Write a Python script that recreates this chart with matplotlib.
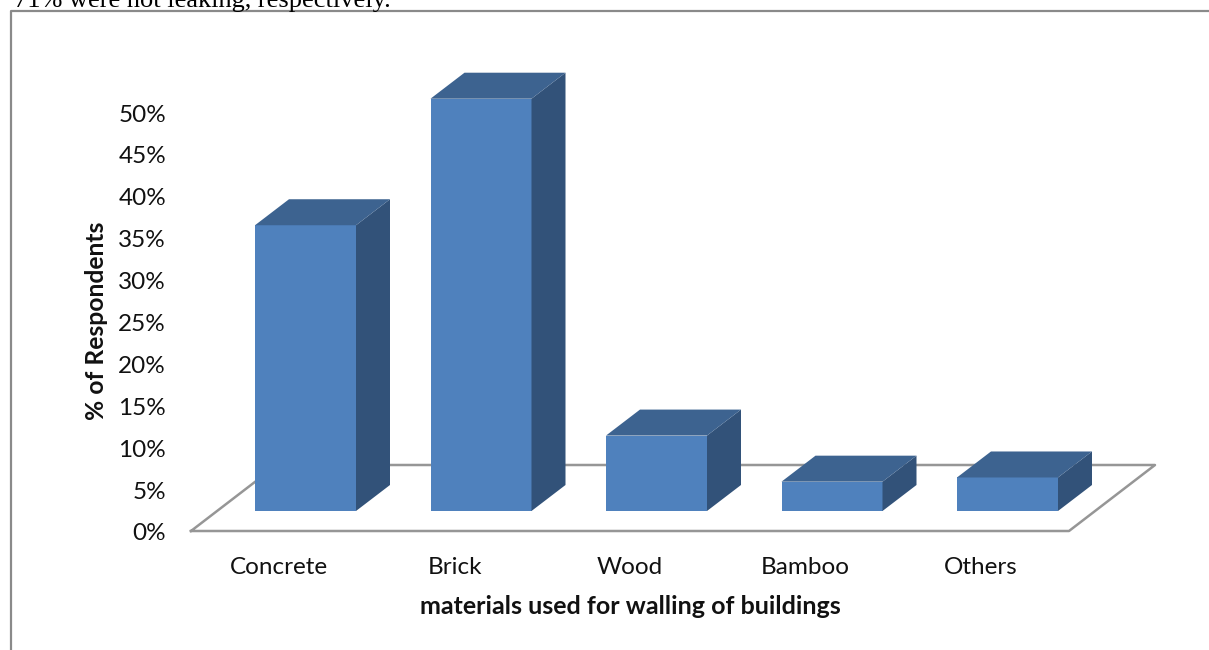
import matplotlib
matplotlib.use("Agg")
import matplotlib.pyplot as plt
from matplotlib.lines import Line2D
from matplotlib.transforms import ScaledTranslation

categories = ["Concrete", "Brick", "Wood", "Bamboo", "Others"]
values = [34.1, 49.2, 9.0, 3.5, 4.0]
yticks = [0, 5, 10, 15, 20, 25, 30, 35, 40, 45, 50]
ylabels = ["%d%%" % t for t in yticks]

W, H = 1209, 650
plt.rcParams['font.family'] = ['Lato', 'DejaVu Sans']

fig = plt.figure(figsize=(W / 100, H / 100), dpi=100)

# axes box in pixels: x 191-1155, y 531 (0%) up to 70
left, right, bottom, top = 191, 1155, 531, 70
ax = fig.add_axes([left / W, 1 - bottom / H, (right - left) / W, (bottom - top) / H])

px_x = 175.5           # pixels per category
px_y = (531 - 112) / 50  # pixels per percent
ax.set_xlim((left - 305.5) / px_x, (right - 305.5) / px_x)
ax.set_ylim(0, (bottom - top) / px_y)

# depth of the 3d look
bar_w = 101 / px_x
dx, dy = 34 / px_x, 26 / px_y
base = 20 / px_y
floor_dx, floor_dy = 86 / px_x, 66 / px_y
x0, x1 = ax.get_xlim()
x_front_r = x1 - floor_dx

floor_x = [x0, x_front_r, x1, x0 + floor_dx, x0]
floor_y = [0, 0, floor_dy, floor_dy, 0]
ax.plot(floor_x, floor_y, color='#969696', lw=1.8, zorder=1, clip_on=False)

front = '#4f81bd'
side = '#325279'
cap = '#3d6390'
for i, v in enumerate(values):
    l, r = i - bar_w / 2, i + bar_w / 2
    t = base + v
    ax.bar(i, v, bar_w, bottom=base, color=front, lw=0, zorder=3 + i)
    ax.fill([r, r + dx, r + dx, r], [base, base + dy, t + dy, t], color=side, lw=0, zorder=3 + i)
    ax.fill([l, l + dx, r + dx, r], [t, t + dy, t + dy, t], color=cap, lw=0, zorder=3 + i)

for s in ax.spines.values():
    s.set_visible(False)
ax.patch.set_alpha(0)

ax.set_xticks([i - 26.5 / px_x for i in range(len(categories))], categories, fontsize=17.5, color='#111111')
ax.set_yticks(yticks, ylabels, fontsize=17.5, color='#111111')
ax.tick_params(axis='x', length=0, pad=18.5)
ax.tick_params(axis='y', length=0, pad=18)
# y labels sit a little lower than the tick position
shift = ScaledTranslation(0, -1 / 100, fig.dpi_scale_trans)
for lab in ax.get_yticklabels():
    lab.set_transform(lab.get_transform() + shift)

fig.text(630 / W, 1 - 607 / H, "materials used for walling of buildings", ha='center', va='center',
         fontsize=18, fontweight='bold', color='#111111')
fig.text(96 / W, 1 - 321 / H, "% of Respondents", ha='center', va='center', rotation=90,
         fontsize=17.7, fontweight='bold', color='#111111')

# page around the chart: frame and the clipped line of text above it
fig.add_artist(Line2D([11 / W, 11 / W, 1], [0, 1 - 11 / H, 1 - 11 / H], color='#8a8a8a', lw=1.6))
fig.text(14 / W, 1 - 7 / H, "71% were not leaking, respectively.", ha='left', va='baseline',
         fontsize=19, family='Liberation Serif', color='black')

fig.savefig('out.png', dpi=100)
